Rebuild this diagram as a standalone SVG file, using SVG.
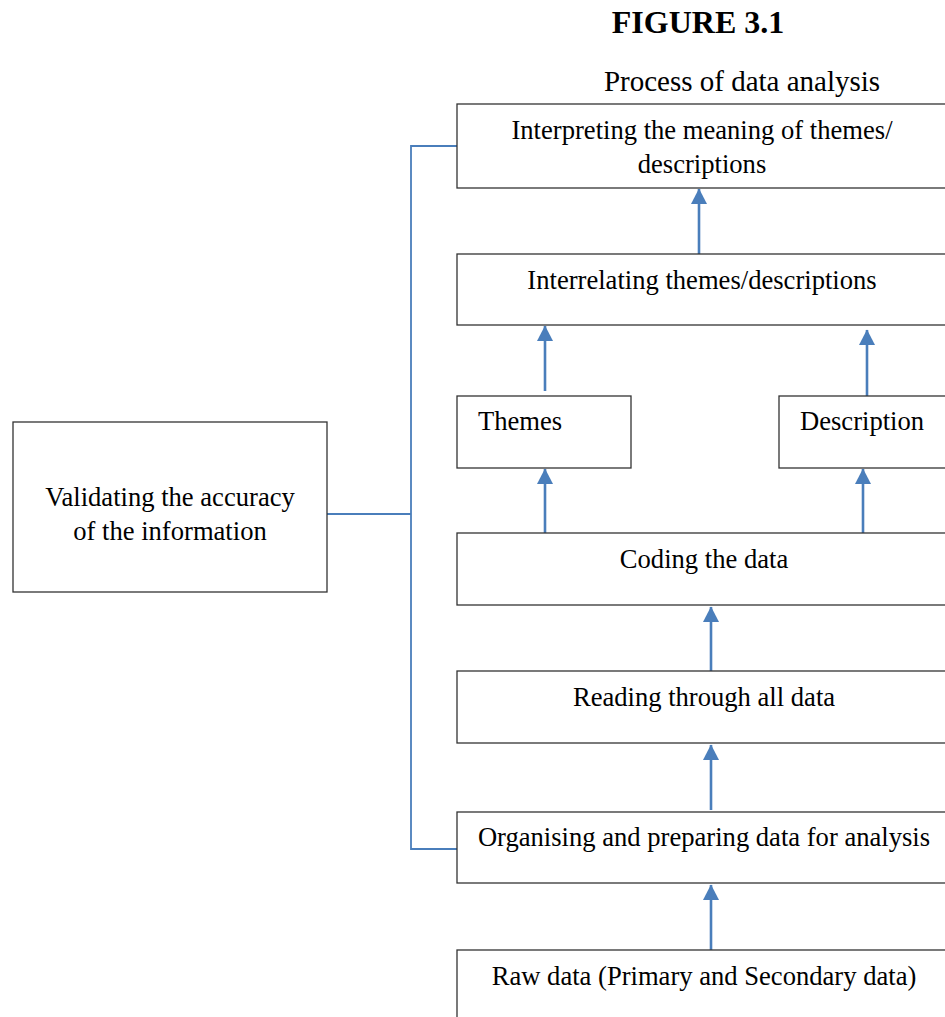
<svg xmlns="http://www.w3.org/2000/svg" width="945" height="1017" viewBox="0 0 945 1017">
  <style>
    .box { fill: #ffffff; stroke: #333333; stroke-width: 1.3; }
    .t { font-family: "Liberation Serif", "Times New Roman", serif; font-size: 26.6px; fill: #000000; }
    .c { text-anchor: middle; }
    .title { font-family: "Liberation Serif", "Times New Roman", serif; font-size: 32px; font-weight: bold; fill: #000000; text-anchor: middle; }
    .sub { font-family: "Liberation Serif", "Times New Roman", serif; font-size: 29px; fill: #000000; text-anchor: middle; }
    .arrow { stroke: #4A7EBB; stroke-width: 2.6; fill: none; marker-end: url(#ah); }
    .link { stroke: #4A7EBB; stroke-width: 1.8; fill: none; }
  </style>
  <defs>
    <marker id="ah" markerUnits="userSpaceOnUse" markerWidth="16" markerHeight="16" refX="15" refY="8" orient="auto">
      <path d="M0,0 L15.5,8 L0,16 Z" fill="#4A7EBB"/>
    </marker>
  </defs>
  <rect width="945" height="1017" fill="#ffffff"/>

  <g id="title">
    <text class="title" x="698" y="33">FIGURE 3.1</text>
    <text class="sub" x="742" y="91">Process of data analysis</text>
  </g>

  <g id="connectors">
    <path class="link" d="M457,146 H411 V849 H457"/>
    <path class="link" d="M327,514 H411"/>
    <line class="arrow" x1="699" y1="254" x2="699" y2="189"/>
    <line class="arrow" x1="545" y1="391" x2="545" y2="326"/>
    <line class="arrow" x1="867" y1="396" x2="867" y2="330"/>
    <line class="arrow" x1="545" y1="533" x2="545" y2="469"/>
    <line class="arrow" x1="863" y1="533" x2="863" y2="469"/>
    <line class="arrow" x1="711" y1="671" x2="711" y2="607"/>
    <line class="arrow" x1="711" y1="810" x2="711" y2="745"/>
    <line class="arrow" x1="711" y1="950" x2="711" y2="885"/>
  </g>

  <g id="interpreting">
    <rect class="box" x="457" y="104" width="500" height="84"/>
    <text class="t c" x="702" y="139">Interpreting the meaning of themes/</text>
    <text class="t c" x="702" y="173">descriptions</text>
  </g>
  <g id="interrelating">
    <rect class="box" x="457" y="254" width="500" height="71"/>
    <text class="t c" x="702" y="289">Interrelating themes/descriptions</text>
  </g>
  <g id="themes">
    <rect class="box" x="457" y="396" width="174" height="72"/>
    <text class="t" x="478" y="430">Themes</text>
  </g>
  <g id="description">
    <rect class="box" x="779" y="396" width="180" height="72"/>
    <text class="t" x="800" y="430">Description</text>
  </g>
  <g id="coding">
    <rect class="box" x="457" y="533" width="500" height="72"/>
    <text class="t c" x="704" y="568">Coding the data</text>
  </g>
  <g id="reading">
    <rect class="box" x="457" y="671" width="500" height="72"/>
    <text class="t c" x="704" y="706">Reading through all data</text>
  </g>
  <g id="organising">
    <rect class="box" x="457" y="812" width="500" height="71"/>
    <text class="t c" x="704" y="846">Organising and preparing data for analysis</text>
  </g>
  <g id="raw">
    <rect class="box" x="457" y="950" width="500" height="90"/>
    <text class="t c" x="704" y="985">Raw data (Primary and Secondary data)</text>
  </g>
  <g id="validating">
    <rect class="box" x="13" y="422" width="314" height="170"/>
    <text class="t c" x="170" y="506">Validating the accuracy</text>
    <text class="t c" x="170" y="540">of the information</text>
  </g>
</svg>
